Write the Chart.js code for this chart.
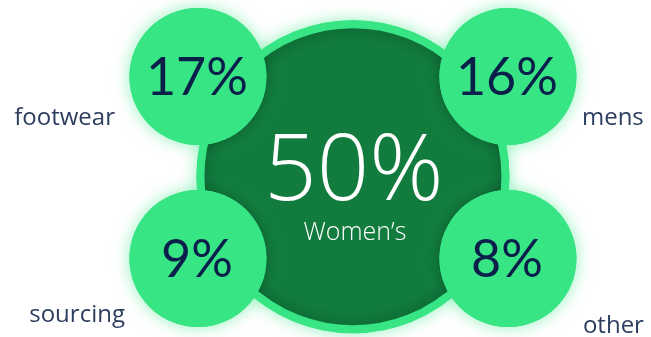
<!DOCTYPE html>
<html lang="en">
<head>
<meta charset="UTF-8">
<title>Category share</title>
<script src="https://cdn.jsdelivr.net/npm/chart.js"></script>
<style>
  html, body { margin: 0; padding: 0; background: #fff; }
  #wrap { width: 651px; height: 337px; }
</style>
</head>
<body>
<div id="wrap"><canvas id="share" width="651" height="337"></canvas></div>
<script>
// share of sales by category (percent)
const hubLabel = "Women’s";
const hubValue = 50;
const categories = ['footwear', 'mens', 'sourcing', 'other'];
const shares = [17, 16, 9, 8];

// layout: 2x2 grid of small bubbles round the big one
const cellCol = i => (i % 2 === 0 ? -1 : 1);
const cellRow = i => (i < 2 ? 1 : -1);
const hubY = -0.1;
const hubRadius = 152.5;
const cellRadius = 68.5;
const ringWidth = 8;

// label placement next to each bubble (px from centre)
const labelPlace = [
  { dx: -83, dy: 48, align: 'right' },
  { dx: 74, dy: 48, align: 'left' },
  { dx: -73, dy: 63, align: 'right' },
  { dx: 75, dy: 74, align: 'left' }
];

const mint = '#38e585';
const forest = '#127c3f';
const navy = '#0b1f4b';
const slate = '#2c3d5e';

function hubFill(context) {
  const chart = context.chart;
  if (!chart.chartArea) return forest;
  const cx = chart.scales.x.getPixelForValue(0);
  const cy = chart.scales.y.getPixelForValue(hubY);
  const g = chart.ctx.createRadialGradient(cx, cy, 0, cx, cy, hubRadius);
  g.addColorStop(0, forest);
  g.addColorStop(0.88, forest);
  g.addColorStop(1, '#0d6a35');
  return g;
}

// soft mint halo behind every bubble
const glow = {
  id: 'glow',
  beforeDatasetsDraw(chart) {
    const ctx = chart.ctx;
    chart.getSortedVisibleDatasetMetas().forEach(meta => {
      meta.data.forEach(el => {
        const o = el.options;
        ctx.save();
        ctx.shadowColor = 'rgba(56,229,133,0.55)';
        ctx.shadowBlur = 16;
        ctx.fillStyle = mint;
        ctx.beginPath();
        ctx.arc(el.x, el.y, o.radius + o.borderWidth / 2, 0, Math.PI * 2);
        ctx.fill();
        ctx.restore();
      });
    });
  },
  // darker shade the small bubbles throw onto the big one
  beforeDatasetDraw(chart, args) {
    if (args.index !== 0) return;
    const hub = chart.getDatasetMeta(1).data[0];
    const ctx = chart.ctx;
    ctx.save();
    ctx.beginPath();
    ctx.arc(hub.x, hub.y, hubRadius - ringWidth / 2, 0, Math.PI * 2);
    ctx.clip();
    args.meta.data.forEach(el => {
      ctx.save();
      ctx.shadowColor = 'rgba(0,45,18,0.4)';
      ctx.shadowBlur = 14;
      ctx.fillStyle = mint;
      ctx.beginPath();
      ctx.arc(el.x, el.y, el.options.radius, 0, Math.PI * 2);
      ctx.fill();
      ctx.restore();
    });
    ctx.restore();
  }
};

// percentages inside bubbles and category names beside them
const texts = {
  id: 'texts',
  afterDatasetsDraw(chart) {
    const ctx = chart.ctx;
    ctx.save();
    ctx.textBaseline = 'alphabetic';

    const hub = chart.getDatasetMeta(1).data[0];
    ctx.fillStyle = '#ffffff';
    ctx.textAlign = 'center';
    ctx.font = '300 92px "Open Sans", sans-serif';
    ctx.fillText(hubValue + '%', hub.x + 1, hub.y + 23);
    ctx.font = '300 25px "Open Sans", sans-serif';
    ctx.fillText(hubLabel, hub.x + 2, hub.y + 63);

    chart.getDatasetMeta(0).data.forEach((el, i) => {
      ctx.fillStyle = navy;
      ctx.textAlign = 'center';
      ctx.font = '400 52px Lato, sans-serif';
      ctx.fillText(shares[i] + '%', el.x - 1, el.y + 18);

      const p = labelPlace[i];
      ctx.fillStyle = slate;
      ctx.textAlign = p.align;
      ctx.font = '400 24px "Open Sans", sans-serif';
      ctx.fillText(categories[i], el.x + p.dx, el.y + p.dy);
    });
    ctx.restore();
  }
};

new Chart(document.getElementById('share'), {
  type: 'bubble',
  data: {
    datasets: [
      {
        label: 'categories',
        data: shares.map((v, i) => ({ x: cellCol(i), y: cellRow(i), r: cellRadius, v })),
        backgroundColor: mint,
        borderWidth: 0,
        clip: false
      },
      {
        label: hubLabel,
        data: [{ x: 0, y: hubY, r: hubRadius, v: hubValue }],
        backgroundColor: hubFill,
        borderColor: mint,
        borderWidth: ringWidth,
        clip: false
      }
    ]
  },
  options: {
    responsive: false,
    animation: false,
    events: [],
    layout: { padding: 0, autoPadding: false },
    plugins: { legend: { display: false }, tooltip: { enabled: false } },
    scales: {
      x: { type: 'linear', display: false, min: -2.277, max: 1.923 },
      y: { type: 'linear', display: false, min: -1.862, max: 1.841 }
    }
  },
  plugins: [glow, texts]
});
</script>
</body>
</html>
